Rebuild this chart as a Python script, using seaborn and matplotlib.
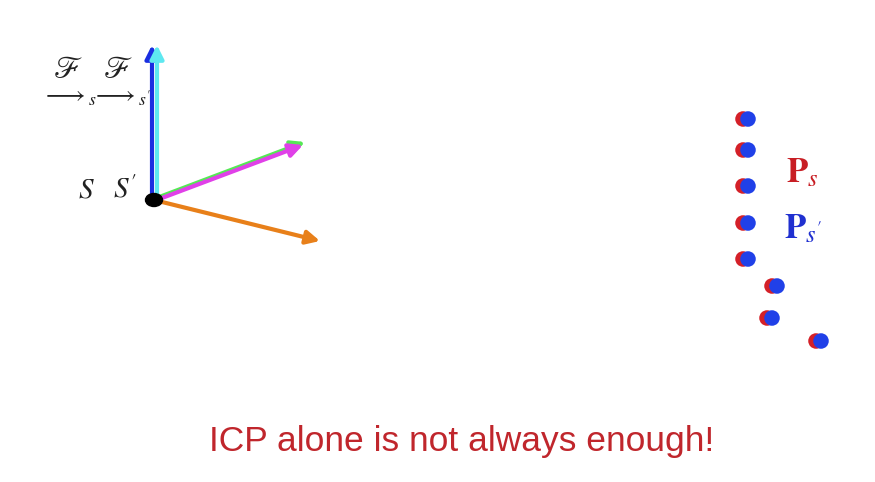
import matplotlib
matplotlib.use('Agg')
import matplotlib.pyplot as plt
import seaborn as sns
import pandas as pd
from matplotlib.patches import Ellipse

# point cloud (pixel coords, y down)
px_s = [743, 743, 743, 743, 743, 772, 767, 816]
py_s = [119, 150, 186, 223, 259, 286, 318, 341]
px_s2 = [748, 748, 748, 748, 748, 777, 772, 821]
py_s2 = [119, 150, 186, 223, 259, 286, 318, 341]

# frame axes: origin, tips, colours
origin = (154, 200)
axis_tips = [(152, 45), (157, 45), (305, 142), (303, 145), (320, 241)]
axis_offsets = [(-2, 0), (3, 0), (0, -1), (0, 1), (0, 0)]
axis_colors = ['#1a2ee0', '#5ee8f0', '#55e855', '#e040e8', '#e8801a']

sns.set_theme(style='white')
plt.rcParams['mathtext.fontset'] = 'stix'

df = pd.DataFrame({
    'x': px_s + px_s2,
    'y': py_s + py_s2,
    'cloud': ['Ps'] * len(px_s) + ['Ps2'] * len(px_s2),
})

fig = plt.figure(figsize=(8.75, 4.82), dpi=100)
ax = fig.add_axes([0, 0, 1, 1])
ax.set_xlim(0, 875)
ax.set_ylim(482, 0)
ax.axis('off')

sns.scatterplot(data=df, x='x', y='y', hue='cloud',
                palette={'Ps': '#d42028', 'Ps2': '#2040e8'},
                s=125, linewidth=0, legend=False, ax=ax)

for tip, off, c in zip(axis_tips, axis_offsets, axis_colors):
    ax.annotate('', xy=tip, xytext=(origin[0] + off[0], origin[1] + off[1]),
                arrowprops=dict(arrowstyle='-|>', color=c, lw=3,
                                mutation_scale=20, shrinkA=0, shrinkB=0))

ax.add_patch(Ellipse(origin, 17, 13, color='black', zorder=5))

ax.text(86, 190, r'$S$', fontsize=21, ha='center', va='center', color='#222222')
ax.text(125, 190, r"$S'$", fontsize=21, ha='center', va='center', color='#222222')
ax.text(68, 70, r'$\mathscr{F}$', fontsize=22, ha='center', va='center', color='#222222')
ax.text(118, 70, r'$\mathscr{F}$', fontsize=22, ha='center', va='center', color='#222222')
ax.text(70, 96, r'$\longrightarrow_s$', fontsize=18, ha='center', va='center', color='#222222')
ax.text(122, 96, r"$\longrightarrow_{s'}$", fontsize=18, ha='center', va='center', color='#222222')

ax.text(786, 172, r'$\mathbf{P}_s$', fontsize=25, ha='left', va='center', color='#c81e24')
ax.text(784, 228, r"$\mathbf{P}_{s'}$", fontsize=25, ha='left', va='center', color='#2030d0')

ax.text(462, 442, 'ICP alone is not always enough!', fontsize=25.5,
        ha='center', va='center', color='#c0262c',
        family=['Liberation Sans Narrow', 'Liberation Sans', 'DejaVu Sans'])

fig.savefig('out.png', dpi=100)
